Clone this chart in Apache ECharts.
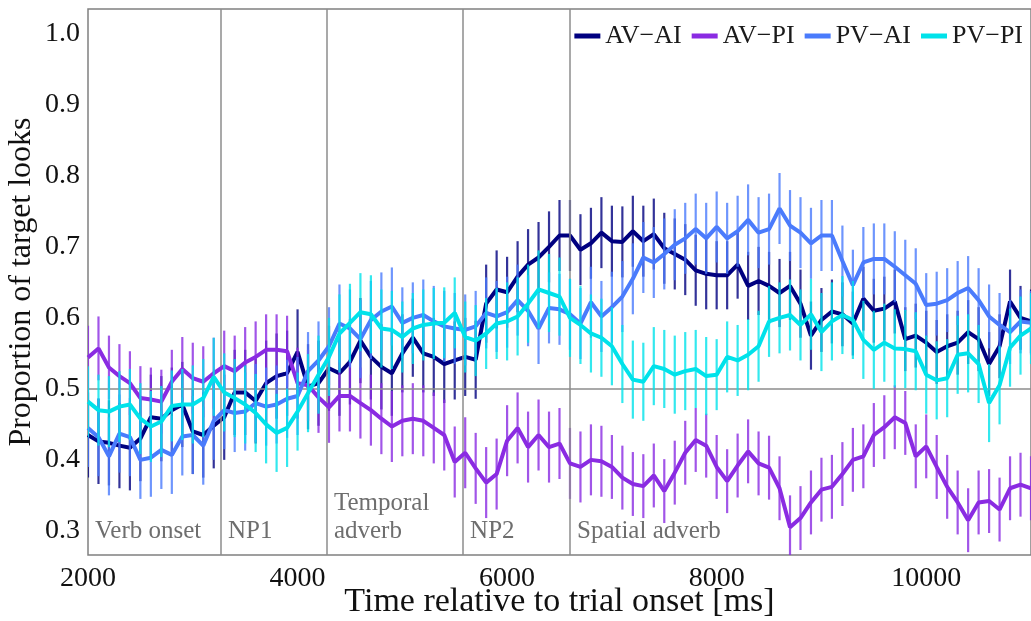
<!DOCTYPE html>
<html>
<head>
<meta charset="utf-8">
<script src="https://cdn.jsdelivr.net/npm/echarts@6/dist/echarts.min.js"></script>
<style>html,body{margin:0;padding:0;background:#fff}#c{width:1031px;height:621px}</style>
</head>
<body>
<div id="c"></div>
<script>
// sample times: 2000 ms .. 11000 ms, every 100 ms
const tStart = 2000, tStep = 100;

const seriesNames = ['AV\u2212AI', 'AV\u2212PI', 'PV\u2212AI', 'PV\u2212PI'];

const avAI = [0.435,0.426,0.424,0.42,0.417,0.43,0.46,0.458,0.47,0.478,
0.44,0.435,0.448,0.46,0.495,0.495,0.483,0.508,0.518,0.522,
0.552,0.503,0.508,0.529,0.522,0.538,0.568,0.545,0.531,0.522,
0.55,0.572,0.55,0.545,0.535,0.54,0.545,0.541,0.62,0.64,
0.636,0.658,0.675,0.685,0.7,0.716,0.716,0.696,0.705,0.72,
0.708,0.707,0.722,0.708,0.718,0.698,0.69,0.682,0.667,0.662,
0.66,0.66,0.675,0.645,0.652,0.645,0.635,0.645,0.62,0.575,
0.597,0.609,0.605,0.592,0.627,0.61,0.613,0.623,0.57,0.575,
0.565,0.552,0.56,0.565,0.58,0.57,0.535,0.56,0.623,0.6,0.595];

const avPI = [0.544,0.557,0.53,0.518,0.508,0.487,0.485,0.482,0.51,0.528,
0.515,0.51,0.522,0.532,0.525,0.537,0.545,0.555,0.555,0.553,
0.508,0.505,0.488,0.474,0.49,0.49,0.48,0.47,0.458,0.447,
0.455,0.458,0.455,0.445,0.435,0.397,0.41,0.388,0.368,0.38,
0.427,0.445,0.418,0.435,0.418,0.423,0.395,0.39,0.4,0.398,
0.39,0.375,0.366,0.363,0.378,0.356,0.382,0.41,0.428,0.42,
0.39,0.37,0.392,0.412,0.395,0.389,0.36,0.305,0.318,0.34,
0.358,0.362,0.38,0.4,0.405,0.435,0.446,0.46,0.452,0.405,
0.419,0.39,0.362,0.34,0.315,0.34,0.342,0.33,0.36,0.365,0.36];

const pvAI = [0.445,0.432,0.405,0.437,0.432,0.4,0.403,0.414,0.407,0.433,
0.435,0.42,0.455,0.47,0.466,0.468,0.48,0.475,0.478,0.486,
0.49,0.525,0.54,0.56,0.592,0.585,0.57,0.597,0.609,0.616,
0.593,0.6,0.604,0.595,0.588,0.585,0.583,0.588,0.607,0.602,
0.608,0.625,0.61,0.585,0.614,0.612,0.605,0.592,0.622,0.602,
0.615,0.63,0.655,0.685,0.678,0.69,0.703,0.712,0.725,0.712,
0.728,0.712,0.722,0.738,0.72,0.725,0.754,0.73,0.72,0.705,
0.716,0.716,0.68,0.646,0.678,0.683,0.683,0.672,0.66,0.648,
0.618,0.62,0.625,0.635,0.642,0.625,0.602,0.59,0.58,0.595,0.593];

const pvPI = [0.482,0.47,0.468,0.475,0.478,0.458,0.447,0.454,0.476,0.478,
0.478,0.487,0.517,0.495,0.487,0.478,0.466,0.45,0.438,0.445,
0.468,0.494,0.52,0.545,0.578,0.593,0.608,0.605,0.585,0.583,
0.573,0.585,0.59,0.592,0.593,0.607,0.573,0.568,0.578,0.592,
0.595,0.602,0.62,0.64,0.635,0.63,0.6,0.59,0.578,0.572,
0.56,0.535,0.513,0.51,0.532,0.528,0.52,0.525,0.528,0.518,
0.52,0.545,0.54,0.548,0.56,0.595,0.6,0.604,0.59,0.605,
0.58,0.595,0.604,0.597,0.569,0.555,0.565,0.557,0.556,0.553,
0.52,0.512,0.515,0.548,0.55,0.535,0.48,0.505,0.558,0.575,0.585];

// error-bar half widths, one estimate per 1000 ms block (2000-2999, ..., 10000-11000)
const errAvAI = [0.06,0.06,0.06,0.055,0.05,0.05,0.048,0.045,0.045,0.045];
const errAvPI = [0.045,0.05,0.05,0.05,0.05,0.045,0.045,0.045,0.045,0.045];
const errPvAI = [0.055,0.055,0.055,0.05,0.05,0.05,0.05,0.05,0.045,0.045];
const errPvPI = [0.05,0.055,0.055,0.05,0.055,0.055,0.05,0.055,0.055,0.05];

const regionStarts = [2000, 3270, 4280, 5580, 6600];
const regionLabels = ['Verb onset', 'NP1', 'Temporal\nadverb', 'NP2', 'Spatial adverb'];
const chanceLevel = 0.5;

const yTicks = [0.3, 0.4, 0.5, 0.6, 0.7, 0.8, 0.9, 1.0];

const colors = ['#000080', '#8a2be2', '#4a7bfc', '#00e2ea'];
const values = [avAI, avPI, pvAI, pvPI];
const errs = [errAvAI, errAvPI, errPvAI, errPvPI];

const FONT = '"Liberation Serif", "DejaVu Serif", serif';

function times(n) { const a = []; for (let i = 0; i < n; i++) a.push(tStart + i * tStep); return a; }

const series = [];
// reference lines
series.push({
  type: 'line', data: [], z: 1, silent: true,
  markLine: {
    symbol: 'none', silent: true, animation: false,
    label: { show: false },
    lineStyle: { color: '#8c8c8c', width: 1.5, type: 'solid' },
    data: regionStarts.slice(1).map(t => ({ xAxis: t })).concat([{ yAxis: chanceLevel }])
  }
});

values.forEach((vals, si) => {
  const ts = times(vals.length);
  const ebData = vals.map((v, i) => {
    const block = Math.min(errs[si].length - 1, Math.floor((ts[i] - 2000) / 1000));
    return [ts[i], v, errs[si][block]];
  });
  series.push({
    type: 'custom', name: seriesNames[si] + ' err', z: 2 + si * 2, clip: true, silent: true,
    data: ebData,
    renderItem: function (params, api) {
      const x = api.value(0), y = api.value(1), e = api.value(2);
      const p1 = api.coord([x, y - e]);
      const p2 = api.coord([x, y + e]);
      return {
        type: 'line',
        shape: { x1: p1[0], y1: p1[1], x2: p2[0], y2: p2[1] },
        style: { stroke: colors[si], lineWidth: 2.2, opacity: 0.8 }
      };
    }
  });
  series.push({
    type: 'line', name: seriesNames[si], z: 3 + si * 2,
    data: vals.map((v, i) => [ts[i], v]),
    showSymbol: false, symbol: 'none', clip: true,
    lineStyle: { color: colors[si], width: 4 },
    itemStyle: { color: colors[si] },
    animation: false
  });
});

// region labels
series.push({
  type: 'custom', z: 20, silent: true, clip: false,
  data: regionStarts.map((t, i) => [t, 0.3, i]),
  renderItem: function (params, api) {
    const p = api.coord([api.value(0), api.value(1)]);
    return {
      type: 'text',
      x: p[0] + 7, y: p[1] + 15,
      style: {
        text: regionLabels[api.value(2)],
        fill: '#6e6e6e', font: '25px ' + FONT,
        textAlign: 'left', textVerticalAlign: 'bottom', lineHeight: 28
      }
    };
  }
});

const chart = echarts.init(document.getElementById('c'), null, { renderer: 'canvas' });
chart.setOption({
  animation: false,
  backgroundColor: '#ffffff',
  textStyle: { fontFamily: FONT },
  grid: { left: 88, right: 0, top: 9, bottom: 66, show: true, borderColor: '#808080', borderWidth: 1.5,
    containLabel: false, outerBoundsMode: 'none' },
  legend: {
    data: seriesNames,
    right: 3, top: 18,
    icon: 'rect', itemWidth: 26, itemHeight: 5, itemGap: 10,
    textStyle: { fontFamily: FONT, fontSize: 26, color: '#1a1a1a' }
  },
  xAxis: {
    type: 'value', min: 2000, max: 11000, interval: 2000,
    name: 'Time relative to trial onset [ms]', nameLocation: 'middle', nameGap: 30,
    nameMoveOverlap: false,
    nameTextStyle: { fontFamily: FONT, fontSize: 34, color: '#111', verticalAlign: 'top' },
    axisLine: { show: false }, axisTick: { show: false }, splitLine: { show: false },
    axisLabel: { fontFamily: FONT, fontSize: 28, color: '#111', margin: 10, showMaxLabel: false,
      formatter: v => String(v) }
  },
  yAxis: {
    type: 'value', min: 0.266, max: 1.035,
    name: 'Proportion of target looks', nameLocation: 'middle', nameGap: 50,
    nameMoveOverlap: false,
    nameTextStyle: { fontFamily: FONT, fontSize: 32, color: '#111' },
    axisLine: { show: false }, axisTick: { show: false }, splitLine: { show: false },
    axisLabel: { fontFamily: FONT, fontSize: 28, color: '#111', margin: 8,
      customValues: yTicks, formatter: v => v.toFixed(1) }
  },
  series: series
});
</script>
</body>
</html>
